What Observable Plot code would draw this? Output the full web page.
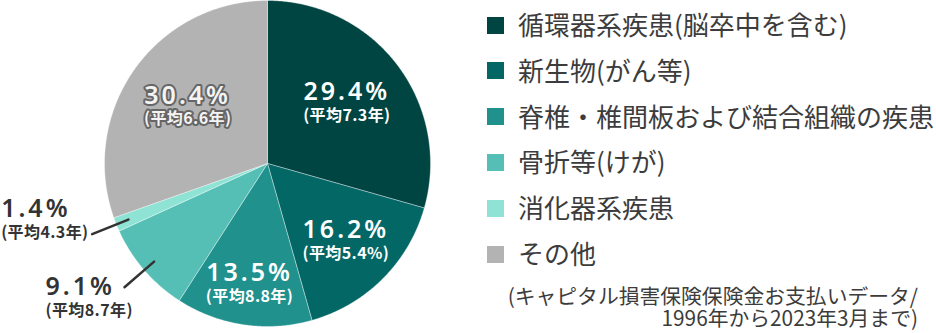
<!DOCTYPE html>
<html><head><meta charset="utf-8">
<script src="https://cdn.jsdelivr.net/npm/d3@7"></script>
<script src="https://cdn.jsdelivr.net/npm/@observablehq/plot@0.6"></script>
<style>
body{margin:0;background:#fff;}
#wrap{position:relative;width:936px;height:333px;overflow:hidden;font-family:"Noto Sans CJK JP","Noto Sans",sans-serif;color:#3c3c3c;}
#chart{position:absolute;left:0;top:0;}
.lg{position:absolute;left:487px;height:30px;line-height:30px;white-space:nowrap;}
.lg .sw{position:absolute;left:0;top:6.5px;width:17px;height:17px;}
.lg .tx{position:absolute;left:31px;top:-1px;font-size:26px;font-weight:400;}
#note{position:absolute;right:18px;top:284px;text-align:right;font-size:20.8px;line-height:22px;white-space:nowrap;font-weight:400;}
</style></head><body><div id="wrap"><div id="chart"></div></div>
<script>
const categories = ["循環器系疾患(脳卒中を含む)","新生物(がん等)","脊椎・椎間板および結合組織の疾患","骨折等(けが)","消化器系疾患","その他"];
const shares = [29.4,16.2,13.5,9.1,1.4,30.4];
const shareLabels = ["29.4%","16.2%","13.5%","9.1%","1.4%","30.4%"];
const averageLabels = ["(平均7.3年)","(平均5.4%)","(平均8.8年)","(平均8.7年)","(平均4.3年)","(平均6.6年)"];
const colors = ["#004542","#036766","#21918d","#55bfb5","#8fe3d5","#b3b3b3"];
const sourceNote = ["(キャピタル損害保険保険金お支払いデータ/","1996年から2023年3月まで)"];

// layout (not data)
const labelRadius = [0.61,0.68,0.75,null,null,0.60];
const outside = {3:{dx:-79,dyMain:0,dySub:24}, 4:{dx:-91,dyMain:-25,dySub:-1}};

const total = d3.sum(shares);
let acc = 0;
const slices = shares.map((v,i)=>{
  const a0 = acc/total*2*Math.PI; acc += v; const a1 = acc/total*2*Math.PI;
  return {i, cat:categories[i], a0, a1, mid:(a0+a1)/2};
});
const pts = [];
for (const s of slices) {
  pts.push({cat:s.cat, x:0, y:0});
  const n = Math.max(2, Math.ceil((s.a1-s.a0)/(Math.PI/360)));
  for (let k=0;k<=n;k++){ const a = s.a0+(s.a1-s.a0)*k/n; pts.push({cat:s.cat, x:Math.sin(a), y:Math.cos(a)}); }
  pts.push({cat:s.cat, x:0, y:0});
}
const inner = slices.filter(s=>labelRadius[s.i]!=null).map(s=>({
  i:s.i, x:labelRadius[s.i]*Math.sin(s.mid), y:labelRadius[s.i]*Math.cos(s.mid),
  main:shareLabels[s.i], sub:averageLabels[s.i]}));
const leaders = [];
const outerLabels = [];
for (const s of slices) if (outside[s.i]) {
  leaders.push({id:s.i, x:0.92*Math.sin(s.mid), y:0.92*Math.cos(s.mid)});
  leaders.push({id:s.i, x:1.16*Math.sin(s.mid), y:1.16*Math.cos(s.mid)});
  outerLabels.push({i:s.i, x:1.16*Math.sin(s.mid), y:1.16*Math.cos(s.mid), main:shareLabels[s.i], sub:averageLabels[s.i], o:outside[s.i]});
}
const isOther = d => d.i===5;
const mainFont = {fontFamily:"'Noto Sans','Noto Sans CJK JP',sans-serif", fontSize:25, fontWeight:600};
const subFont = {fontFamily:"'Noto Sans CJK JP',sans-serif", fontSize:16, fontWeight:700};

const marks = [
  Plot.line(pts, {x:"x", y:"y", z:"cat", fill:"cat", stroke:"white", strokeWidth:0.6, strokeOpacity:0.6}),
  Plot.line(leaders, {x:"x", y:"y", z:"id", stroke:"#333", strokeWidth:2.5}),
  Plot.text(inner.filter(d=>!isOther(d)), {x:"x", y:"y", text:"main", dy:-11.5, fill:"white", ...mainFont}),
  Plot.text(inner.filter(d=>!isOther(d)), {x:"x", y:"y", text:"sub", dy:12, fill:"white", ...subFont}),
  Plot.text(inner.filter(isOther), {x:"x", y:"y", text:"main", dy:-11.5, fill:"#f4f4f4", stroke:"#666", strokeWidth:4, ...mainFont}),
  Plot.text(inner.filter(isOther), {x:"x", y:"y", text:"sub", dy:12, fill:"#f4f4f4", stroke:"#666", strokeWidth:4, ...subFont}),
];
for (const d of outerLabels) {
  marks.push(Plot.text([d], {x:"x", y:"y", text:"main", dx:d.o.dx, dy:d.o.dyMain, textAnchor:"start", fill:"#333", ...mainFont}));
  marks.push(Plot.text([d], {x:"x", y:"y", text:"sub", dx:d.o.dx, dy:d.o.dySub, textAnchor:"start", fill:"#333", ...subFont}));
}
const chart = Plot.plot({
  width:936, height:333, margin:0,
  x:{domain:[-1,1], range:[104,430], axis:null},
  y:{domain:[-1,1], range:[326,0], axis:null},
  color:{domain:categories, range:colors},
  style:{background:"transparent", overflow:"visible"},
  marks
});
chart.querySelectorAll("text").forEach(t=>{
  if(/%$/.test(t.textContent)) t.style.letterSpacing="3px";
  else if(/^\(平均/.test(t.textContent)) t.style.letterSpacing="0.4px";
});
document.getElementById("chart").appendChild(chart);

const wrap = document.getElementById("wrap");
categories.forEach((c,i)=>{
  const row = document.createElement("div");
  row.className="lg"; row.style.top = (25 + i*45.8 - 15) + "px";
  row.innerHTML = `<div class="sw" style="background:${colors[i]}"></div><div class="tx"></div>`;
  row.querySelector(".tx").textContent = c;
  wrap.appendChild(row);
});
const note = document.createElement("div");
note.id="note";
sourceNote.forEach(l=>{ const d=document.createElement("div"); d.textContent=l; note.appendChild(d); });
wrap.appendChild(note);
</script></body></html>
